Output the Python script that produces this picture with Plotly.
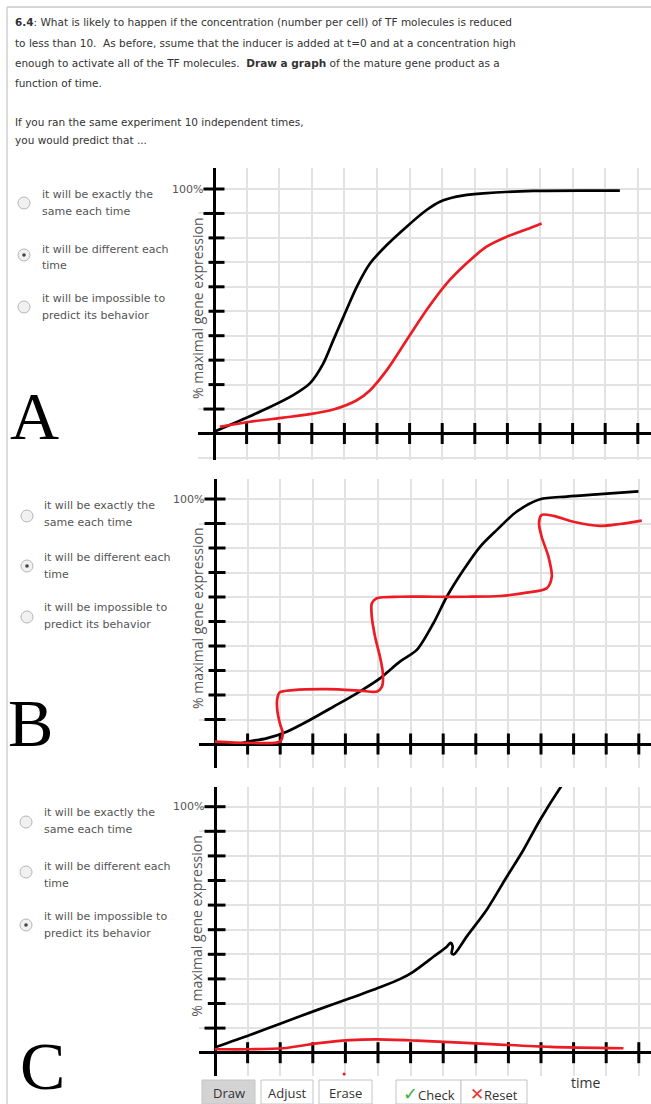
import plotly.graph_objects as go

# ---------------- data (time in grid units, expression in %) ----------------
a_black_x = [0, 0.59, 1.62, 2.43, 2.94, 3.35, 3.66, 3.97, 4.38, 4.79, 5.30, 5.91, 6.52, 6.93, 7.44, 8.26, 9.80, 12.45]
a_black_y = [0.7, 4.1, 10.2, 15.7, 20.5, 28.6, 38.2, 47.7, 60.0, 69.6, 77.1, 84.6, 91.4, 94.8, 96.9, 98.2, 99.2, 99.3]
a_red_x = [0.18, 1.10, 2.13, 2.94, 3.66, 4.38, 4.79, 5.30, 5.91, 6.52, 7.14, 7.75, 8.36, 8.98, 9.59, 10.05]
a_red_y = [2.7, 4.8, 6.5, 7.9, 9.8, 13.6, 17.7, 25.9, 38.2, 50.5, 61.4, 69.6, 76.4, 80.5, 83.5, 85.9]

b_black_x = [0.7, 1.02, 1.58, 2.20, 2.91, 3.63, 4.35, 5.06, 5.67, 6.19, 6.70, 7.11, 7.62, 8.13, 8.64, 9.25, 9.97, 10.79, 11.81, 12.99]
b_black_y = [0, 1.0, 2.3, 5.0, 9.8, 15.2, 20.7, 26.8, 33.6, 38.4, 49.3, 60.1, 71.0, 80.5, 87.3, 94.8, 99.9, 101.0, 102.0, 103.1]
b_red_x = [0, 0.97, 1.99, 2.08, 1.99, 1.91, 1.91, 1.99, 2.40, 3.43, 4.45, 4.97, 5.12, 5.15, 5.06, 4.91, 4.81, 4.81, 4.96,
           5.67, 6.70, 7.72, 8.74, 9.56, 10.17, 10.33, 10.23, 10.02, 9.94, 10.02, 10.38, 10.99, 11.81, 12.42, 13.09]
b_red_y = [1.0, 0.5, 1.0, 4.4, 8.4, 13.9, 18.6, 21.1, 22.0, 22.4, 21.8, 21.4, 23.4, 28.8, 35.6, 43.8, 52.0, 57.4, 59.5,
           60.1, 60.1, 60.1, 60.4, 61.8, 63.5, 68.2, 76.4, 84.6, 90.1, 93.5, 93.1, 90.7, 89.0, 89.8, 91.2]

c_black_x = [0, 1.07, 2.10, 3.12, 4.14, 5.06, 5.67, 6.08, 6.70, 7.11, 7.23, 7.29, 7.26, 7.33, 7.72, 8.33, 8.95, 9.46, 9.97, 10.61, 10.79]
c_black_y = [2.2, 7.2, 12.3, 17.3, 22.1, 26.6, 29.9, 32.9, 39.0, 43.1, 44.7, 43.1, 40.4, 40.0, 47.2, 58.0, 71.5, 82.4, 94.6, 108.1, 111.5]
c_red_x = [0, 1.07, 2.10, 3.12, 4.14, 4.96, 6.19, 7.52, 8.74, 10.28, 12.53]
c_red_y = [1.4, 1.4, 1.8, 3.8, 5.1, 5.4, 4.9, 4.1, 3.3, 2.4, 1.8]
c_dot_x = [3.96]
c_dot_y = [-8.7]

x_ticks = list(range(1, 14))
y_ticks = list(range(10, 101, 10))

question_lines = [
    "<b>6.4</b>: What is likely to happen if the concentration (number per cell) of TF molecules is reduced",
    "to less than 10.  As before, ssume that the inducer is added at t=0 and at a concentration high",
    "enough to activate all of the TF molecules.  <b>Draw a graph</b> of the mature gene product as a",
    "function of time.",
    "If you ran the same experiment 10 independent times,",
    "you would predict that ...",
]
option_lines = [("it will be exactly the", "same each time"),
                ("it will be different each", "time"),
                ("it will be impossible to", "predict its behavior")]
panel_letters = ["A", "B", "C"]
selected_option = [1, 1, 2]

# ---------------- layout helpers ----------------
W, H = 651, 1104
def px(x):
    return x / W
def py(y):
    return 1 - y / H

BLACK = "#000000"
RED = "#ec1c24"
GRID = "#e2e2e2"
TXT_FONT = "DejaVu Sans"

# panel geometry (pixel): x0 pixel of t=0, pixels per unit, y pixel of 0%, pixels per 10%
panels = [
    dict(x0=214, ux=32.6, y0=433.5, uy=24.45, top=168, bottom=460, left=198),
    dict(x0=215, ux=32.6, y0=744.0, uy=24.5, top=479, bottom=768, left=199),
    dict(x0=215, ux=32.6, y0=1052.7, uy=24.6, top=787, bottom=1076, left=199),
]
curves = [
    [(a_black_x, a_black_y, BLACK), (a_red_x, a_red_y, RED)],
    [(b_black_x, b_black_y, BLACK), (b_red_x, b_red_y, RED)],
    [(c_black_x, c_black_y, BLACK), (c_red_x, c_red_y, RED)],
]

fig = go.Figure()
layout = dict(width=W, height=H, margin=dict(l=0, r=0, t=0, b=0),
              paper_bgcolor="white", plot_bgcolor="white", showlegend=False,
              font=dict(family=TXT_FONT, color="#333"))
annotations = []
shapes = []

for i, p in enumerate(panels):
    sfx = "" if i == 0 else str(i + 1)
    xa, ya = "x" + sfx, "y" + sfx
    xr = [(p["left"] - p["x0"]) / p["ux"], (W - p["x0"]) / p["ux"]]
    yr = [(p["y0"] - p["bottom"]) / p["uy"] * 10, (p["y0"] - p["top"]) / p["uy"] * 10]
    common = dict(showgrid=True, gridcolor=GRID, gridwidth=2, zeroline=True, zerolinecolor=BLACK,
                  zerolinewidth=3, showticklabels=False, ticks="", showline=False, fixedrange=True)
    layout["xaxis" + sfx] = dict(domain=[px(p["left"]), 1], range=xr, dtick=1, tick0=0,
                                 anchor=ya, **common)
    layout["yaxis" + sfx] = dict(domain=[py(p["bottom"]), py(p["top"])], range=yr, dtick=10, tick0=0,
                                 anchor=xa, **common)
    # tick marks crossing the axes
    fig.add_trace(go.Scatter(x=x_ticks, y=[0] * len(x_ticks), mode="markers", xaxis=xa, yaxis=ya,
                             marker=dict(symbol="line-ns", size=15, line=dict(width=3, color=BLACK)),
                             hoverinfo="skip"))
    fig.add_trace(go.Scatter(x=[0] * len(y_ticks), y=y_ticks, mode="markers", xaxis=xa, yaxis=ya,
                             marker=dict(symbol="line-ew", size=15, line=dict(width=3, color=BLACK)),
                             hoverinfo="skip"))
    for cx, cy, col in curves[i]:
        fig.add_trace(go.Scatter(x=cx, y=cy, mode="lines", xaxis=xa, yaxis=ya,
                                 line=dict(color=col, width=2.7, shape="spline", smoothing=0.8),
                                 hoverinfo="skip"))
    if i == 2:
        fig.add_trace(go.Scatter(x=c_dot_x, y=c_dot_y, mode="markers", xaxis=xa, yaxis=ya,
                                 marker=dict(color=RED, size=3), cliponaxis=False, hoverinfo="skip"))

    # 100% label
    annotations.append(dict(text="100%", x=px(p["x0"] - 9), y=py(p["y0"] - 10 * p["uy"]),
                            xref="paper", yref="paper", xanchor="right", yanchor="middle",
                            showarrow=False, font=dict(size=11, color="#555")))
    # y axis title
    annotations.append(dict(text="% maximal gene expression", x=px(197), y=py(p["y0"] - 10 * p["uy"] + 119),
                            xref="paper", yref="paper", xanchor="center", yanchor="middle",
                            textangle=-90, showarrow=False, bgcolor="white",
                            font=dict(family="Open Sans", size=14, color="#555")))

# ---- question text ----
q_y = [22.5, 43, 63, 83, 122, 139.5]
for t, yy in zip(question_lines, q_y):
    annotations.append(dict(text=t, x=px(13), y=py(yy), xref="paper", yref="paper",
                            xanchor="left", yanchor="middle", showarrow=False,
                            font=dict(size=10.5, color="#333")))

# ---- radio options per panel ----
radio_pos = [
    dict(rx=24, tx=40, ry=[203, 255, 307], ty=[(194, 212), (249, 266), (298, 315)]),
    dict(rx=27, tx=42, ry=[516, 566, 617], ty=[(505, 522), (557, 574), (607, 624)]),
    dict(rx=26, tx=42, ry=[822, 872, 925], ty=[(812, 829), (866, 883), (916, 933)]),
]
for i, rp in enumerate(radio_pos):
    for k, (l1, l2) in enumerate(option_lines):
        cx, cy = rp["rx"], rp["ry"][k]
        shapes.append(dict(type="circle", xref="paper", yref="paper",
                           x0=px(cx - 6), x1=px(cx + 6), y0=py(cy + 6), y1=py(cy - 6),
                           fillcolor="#f1f1f1", line=dict(color="#b5b5b5", width=1)))
        if selected_option[i] == k:
            shapes.append(dict(type="circle", xref="paper", yref="paper",
                               x0=px(cx - 1.8), x1=px(cx + 1.8), y0=py(cy + 1.8), y1=py(cy - 1.8),
                               fillcolor="#444", line=dict(color="#444", width=0)))
        for txt, yy in zip((l1, l2), rp["ty"][k]):
            annotations.append(dict(text=txt, x=px(rp["tx"]), y=py(yy), xref="paper", yref="paper",
                                    xanchor="left", yanchor="middle", showarrow=False,
                                    font=dict(size=11, color="#555")))

# ---- panel letters ----
letter_pos = [(34, 416), (30, 723), (42, 1066)]
for L, (lx, ly) in zip(panel_letters, letter_pos):
    annotations.append(dict(text=L, x=px(lx), y=py(ly), xref="paper", yref="paper",
                            xanchor="center", yanchor="middle", showarrow=False,
                            font=dict(family="Liberation Serif", size=68, color="black")))

# ---- borders ----
shapes.append(dict(type="line", xref="paper", yref="paper", x0=px(7), x1=1, y0=py(7), y1=py(7),
                   line=dict(color="#c8c8c8", width=1.5)))
shapes.append(dict(type="line", xref="paper", yref="paper", x0=px(7), x1=px(7), y0=py(7), y1=0,
                   line=dict(color="#d0d0d0", width=1.5)))

# ---- buttons ----
btn_box = [(202, 255), (261, 313), (319, 372), (396, 461), (461, 527)]
btn_text = ["Draw", "Adjust", "Erase",
            '<span style="color:#3fae3f;font-size:18px">✓</span>Check',
            '<span style="color:#e53935;font-size:17px">✕</span>Reset']
for k, ((x0, x1), t) in enumerate(zip(btn_box, btn_text)):
    shapes.append(dict(type="rect", xref="paper", yref="paper", x0=px(x0), x1=px(x1),
                       y0=py(1104), y1=py(1080),
                       fillcolor="#d3d3d3" if k == 0 else "white",
                       line=dict(color="#c4c4c4", width=1)))
    annotations.append(dict(text=t, x=px((x0 + x1) / 2), y=py(1093), xref="paper", yref="paper",
                            xanchor="center", yanchor="middle", showarrow=False,
                            font=dict(family="Open Sans", size=13, color="#333")))
annotations.append(dict(text="time", x=px(585), y=py(1082), xref="paper", yref="paper",
                        xanchor="center", yanchor="middle", showarrow=False,
                        font=dict(family="Open Sans", size=14, color="#333")))

layout["annotations"] = annotations
layout["shapes"] = shapes
fig.update_layout(**layout)

fig.write_html("out.html", config={"displayModeBar": False, "staticPlot": True},
               post_script="document.body.style.margin='0';document.body.style.overflow='hidden';")
